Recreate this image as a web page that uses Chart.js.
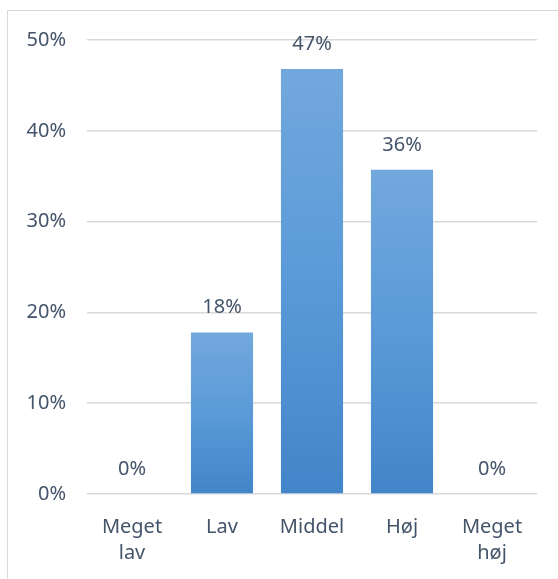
<!DOCTYPE html>
<html lang="da">
<head>
<meta charset="UTF-8">
<title>Niveau</title>
<style>
body { margin:0; padding:0; background:#fff; overflow:hidden; }
#frame { position:absolute; left:7px; top:10px; width:600px; height:600px; border:1px solid #d9d9d9; }
#wrap { position:absolute; left:0; top:0; width:558px; height:579px; }
</style>
</head>
<body>
<div id="frame"></div>
<div id="wrap"><canvas id="chart" width="558" height="579"></canvas></div>
<script src="https://cdn.jsdelivr.net/npm/chart.js"></script>
<script>
const categories = [['Meget', 'lav'], 'Lav', 'Middel', 'Høj', ['Meget', 'høj']];
const values = [0, 17.8, 46.8, 35.7, 0];
const yTicks = [0, 10, 20, 30, 40, 50];

const textColor = '#44546a';
const font = { family: 'Noto Sans, Open Sans, sans-serif', size: 20, lineHeight: 1.3 };

// gradient per bar, light at top, darker at the base
function barFill(ctx) {
  const chart = ctx.chart;
  const y = chart.scales.y;
  if (!y || ctx.raw == null) return '#5b9bd5';
  const top = y.getPixelForValue(ctx.raw);
  const base = y.getPixelForValue(0);
  if (!isFinite(top) || base - top < 1) return '#5b9bd5';
  const g = chart.ctx.createLinearGradient(0, top, 0, base);
  g.addColorStop(0, '#72a8dd');
  g.addColorStop(0.5, '#5a9ad8');
  g.addColorStop(1, '#4285c8');
  return g;
}

const valueLabels = {
  id: 'valueLabels',
  afterDatasetsDraw(chart) {
    const c = chart.ctx;
    const meta = chart.getDatasetMeta(0);
    c.save();
    c.fillStyle = textColor;
    c.font = font.size + 'px ' + font.family;
    c.textAlign = 'center';
    c.textBaseline = 'middle';
    meta.data.forEach((bar, i) => {
      c.fillText(Math.round(values[i]) + '%', bar.x, bar.y - 25);
    });
    c.restore();
  }
};

new Chart(document.getElementById('chart'), {
  type: 'bar',
  data: {
    labels: categories,
    datasets: [{ data: values, backgroundColor: barFill, barPercentage: 0.69, categoryPercentage: 1 }]
  },
  options: {
    responsive: false,
    animation: false,
    layout: { padding: { left: 0, top: 40, right: 21, bottom: 0 } },
    plugins: { legend: { display: false }, tooltip: { enabled: false } },
    scales: {
      x: {
        grid: { display: false },
        border: { display: false },
        ticks: { color: textColor, font: font, padding: 12, maxRotation: 0 },
        afterFit(axis) { axis.height = 85; }
      },
      y: {
        min: 0, max: 50,
        afterBuildTicks(axis) { axis.ticks = yTicks.map(v => ({ value: v })); },
        grid: { color: '#d9d9d9', lineWidth: 1.5, drawTicks: false },
        border: { display: false },
        ticks: { color: textColor, font: font, padding: 21, callback: v => v + '%' },
        afterFit(axis) { axis.width = 87; }
      }
    }
  },
  plugins: [valueLabels]
});
</script>
</body>
</html>
